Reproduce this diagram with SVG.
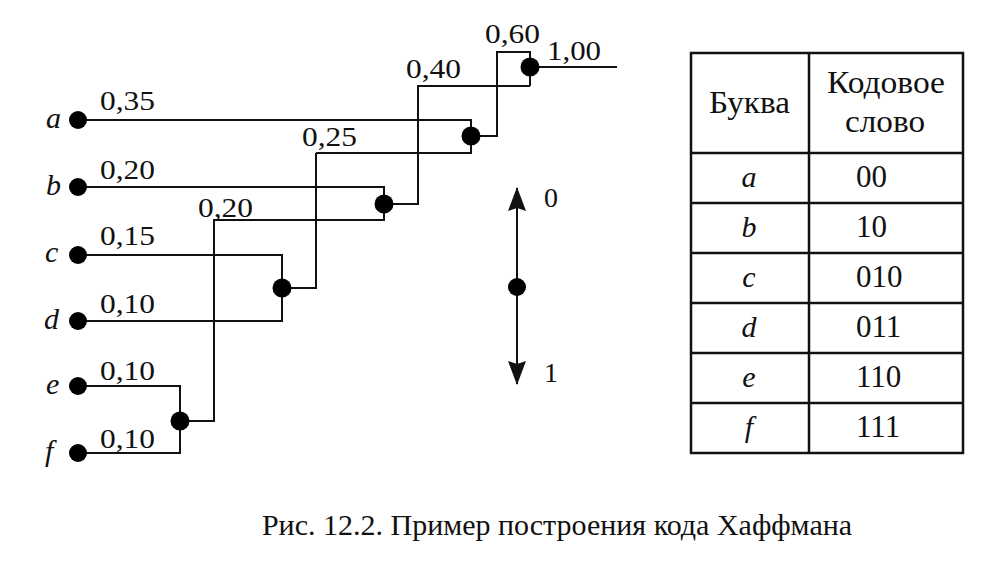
<svg xmlns="http://www.w3.org/2000/svg" width="988" height="578" viewBox="0 0 988 578">
<style>
.ln{fill:none;stroke:#111;stroke-width:2}
.tb{fill:none;stroke:#111;stroke-width:2.5}
.dot{fill:#000}
text{font-family:"Liberation Serif","Times New Roman",serif;fill:#111}
.num{font-size:28px}
.it{font-style:italic;font-size:30px}
.tt{font-size:31px}
.cap{font-size:30px}
</style>
<defs>
<marker id="ah" viewBox="0 0 24 20" refX="23" refY="10" markerWidth="24" markerHeight="20" markerUnits="userSpaceOnUse" orient="auto">
<path d="M0,1 L24,10 L0,19 L3,10 Z" fill="#111"/>
</marker>
</defs>
<rect width="988" height="578" fill="#fff"/>
<g id="connectors">
<path class="ln" d="M78,120 H471 V153 H316"/>
<path class="ln" d="M316,153 V288 H282"/>
<path class="ln" d="M78,255 H282 V321 H78"/>
<path class="ln" d="M78,187 H384 V220 H214 V421 H180"/>
<path class="ln" d="M78,386 H180 V453 H78"/>
<path class="ln" d="M384,204 H418 V86 H530"/>
<path class="ln" d="M471,136 H497 V52 H530 V86"/>
<path class="ln" d="M530,67 H617"/>
</g>
<g id="leaf-a"><circle class="dot" cx="78" cy="120" r="9"/><text class="it" x="46" y="128">a</text><text class="num" x="100" y="110" textLength="55" lengthAdjust="spacingAndGlyphs">0,35</text></g>
<g id="leaf-b"><circle class="dot" cx="78" cy="187" r="9"/><text class="it" x="46" y="195">b</text><text class="num" x="100" y="179" textLength="55" lengthAdjust="spacingAndGlyphs">0,20</text></g>
<g id="leaf-c"><circle class="dot" cx="78" cy="255" r="9"/><text class="it" x="45" y="262">c</text><text class="num" x="100" y="245" textLength="55" lengthAdjust="spacingAndGlyphs">0,15</text></g>
<g id="leaf-d"><circle class="dot" cx="78" cy="321" r="9"/><text class="it" x="44" y="329">d</text><text class="num" x="100" y="313" textLength="55" lengthAdjust="spacingAndGlyphs">0,10</text></g>
<g id="leaf-e"><circle class="dot" cx="78" cy="386" r="9"/><text class="it" x="46" y="394">e</text><text class="num" x="100" y="380" textLength="55" lengthAdjust="spacingAndGlyphs">0,10</text></g>
<g id="leaf-f"><circle class="dot" cx="78" cy="453" r="9"/><text class="it" x="45" y="461">f</text><text class="num" x="100" y="448" textLength="55" lengthAdjust="spacingAndGlyphs">0,10</text></g>
<g id="node-ef"><circle class="dot" cx="180" cy="421" r="9.5"/><text class="num" x="198" y="217" textLength="55" lengthAdjust="spacingAndGlyphs">0,20</text></g>
<g id="node-cd"><circle class="dot" cx="282" cy="288" r="9.5"/><text class="num" x="302" y="146" textLength="55" lengthAdjust="spacingAndGlyphs">0,25</text></g>
<g id="node-bef"><circle class="dot" cx="384" cy="204" r="9.5"/><text class="num" x="406" y="78" textLength="55" lengthAdjust="spacingAndGlyphs">0,40</text></g>
<g id="node-acd"><circle class="dot" cx="471" cy="136" r="9.5"/><text class="num" x="485" y="43" textLength="55" lengthAdjust="spacingAndGlyphs">0,60</text></g>
<g id="node-root"><circle class="dot" cx="530" cy="67" r="9.5"/><text class="num" x="547" y="60" textLength="54" lengthAdjust="spacingAndGlyphs">1,00</text></g>
<g id="legend">
<line class="ln" x1="517" y1="287" x2="517" y2="188" marker-end="url(#ah)"/>
<line class="ln" x1="517" y1="287" x2="517" y2="384" marker-end="url(#ah)"/>
<circle class="dot" cx="517" cy="287" r="9"/>
<text class="num" x="544" y="207">0</text>
<text class="num" x="544" y="382">1</text>
</g>
<g id="table">
<rect class="tb" x="691" y="53" width="272" height="400"/>
<line class="tb" x1="809" y1="53" x2="809" y2="453"/>
<line class="tb" x1="691" y1="153" x2="963" y2="153"/>
<line class="tb" x1="691" y1="203" x2="963" y2="203"/>
<line class="tb" x1="691" y1="253" x2="963" y2="253"/>
<line class="tb" x1="691" y1="303" x2="963" y2="303"/>
<line class="tb" x1="691" y1="353" x2="963" y2="353"/>
<line class="tb" x1="691" y1="403" x2="963" y2="403"/>
<text class="tt" x="709" y="113" textLength="81" lengthAdjust="spacingAndGlyphs">Буква</text>
<text class="tt" x="827" y="93" textLength="118" lengthAdjust="spacingAndGlyphs">Кодовое</text>
<text class="tt" x="845" y="132" textLength="80" lengthAdjust="spacingAndGlyphs">слово</text>
<text class="it" x="749" y="187" text-anchor="middle">a</text>
<text class="it" x="749" y="237" text-anchor="middle">b</text>
<text class="it" x="749" y="287" text-anchor="middle">c</text>
<text class="it" x="749" y="337" text-anchor="middle">d</text>
<text class="it" x="749" y="387" text-anchor="middle">e</text>
<text class="it" x="749" y="437" text-anchor="middle">f</text>
<text class="tt" x="856" y="187">00</text>
<text class="tt" x="856" y="237">10</text>
<text class="tt" x="856" y="287">010</text>
<text class="tt" x="856" y="337">011</text>
<text class="tt" x="856" y="387">110</text>
<text class="tt" x="856" y="437">111</text>
</g>
<text class="cap" x="557" y="535" text-anchor="middle">Рис. 12.2. Пример построения кода Хаффмана</text>
</svg>
